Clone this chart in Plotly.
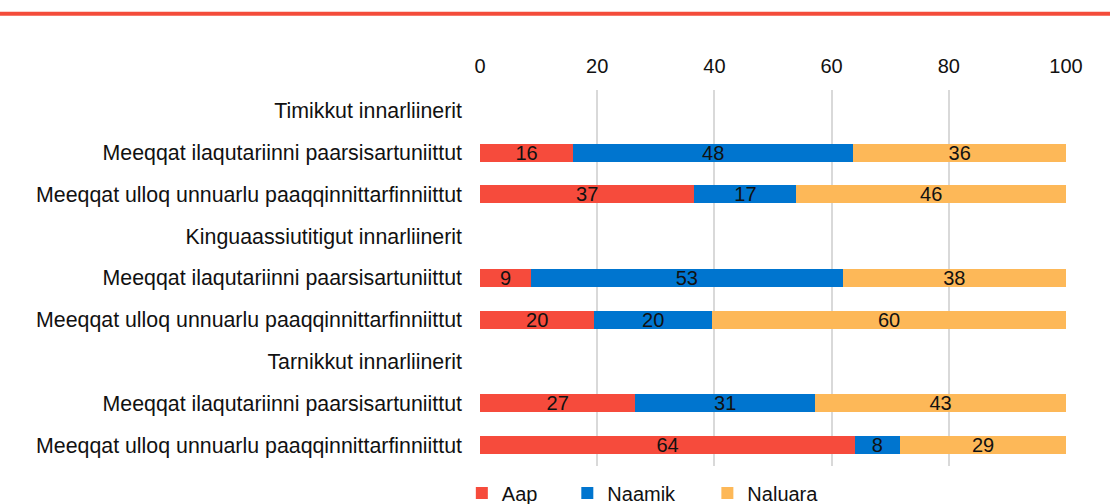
import plotly.graph_objects as go

categories = [
    "Timikkut innarliinerit",
    "Meeqqat ilaqutariinni paarsisartuniittut",
    "Meeqqat ulloq unnuarlu paaqqinnittarfinniittut",
    "Kinguaassiutitigut innarliinerit",
    "Meeqqat ilaqutariinni paarsisartuniittut",
    "Meeqqat ulloq unnuarlu paaqqinnittarfinniittut",
    "Tarnikkut innarliinerit",
    "Meeqqat ilaqutariinni paarsisartuniittut",
    "Meeqqat ulloq unnuarlu paaqqinnittarfinniittut",
]
aap = [None, 15.9, 36.6, None, 8.7, 19.5, None, 26.5, 64.0]
naamik = [None, 47.8, 17.4, None, 53.2, 20.1, None, 30.7, 7.6]
naluara = [None, 36.3, 46.0, None, 38.1, 60.4, None, 42.8, 28.5]
series_names = ["Aap", "Naamik", "Naluara"]
colors = ["#F64B3C", "#0075CF", "#FDB858"]
x_ticks = [0, 20, 40, 60, 80, 100]

FONT = "Liberation Sans, Arial"
ypos = list(range(len(categories)))
fig = go.Figure()
legend_ids = ["legend", "legend2", "legend3"]
for name, vals, col, lg in zip(series_names, [aap, naamik, naluara], colors, legend_ids):
    fig.add_trace(go.Bar(
        y=ypos, x=vals, name=name, orientation="h",
        marker=dict(color=col, line=dict(width=0)),
        texttemplate="%{x:.0f}", textposition="inside",
        insidetextanchor="middle", textangle=0,
        textfont=dict(color="#111", size=20, family=FONT),
        legend=lg,
    ))

legend_common = dict(orientation="h", yanchor="middle", y=-0.072, xanchor="left",
                     font=dict(size=20, family=FONT, color="#111"),
                     bgcolor="rgba(0,0,0,0)", itemwidth=30)
fig.update_layout(
    width=1110, height=504,
    margin=dict(l=480, r=44, t=90, b=38, autoexpand=False),
    barmode="stack", bargap=0.57,
    uniformtext=dict(minsize=20, mode="show"),
    plot_bgcolor="white", paper_bgcolor="white",
    font=dict(family=FONT, size=20, color="#111"),
    xaxis=dict(side="top", range=[0, 100], tickvals=x_ticks, showgrid=True,
               gridcolor="#D9D9D9", gridwidth=2, zeroline=False, showline=False,
               ticks="", ticklabelstandoff=12, tickfont=dict(size=20)),
    yaxis=dict(tickvals=ypos, ticktext=categories, autorange="reversed",
               range=[len(categories) - 0.5, -0.5], showgrid=False, zeroline=False,
               ticks="", ticklabelstandoff=17, tickfont=dict(size=21.35)),
    legend=dict(**legend_common, x=-0.031),
    legend2=dict(**legend_common, x=0.149),
    legend3=dict(**legend_common, x=0.388),
    showlegend=True,
    shapes=[dict(type="line", xref="paper", yref="paper", x0=-0.85, x1=1.12,
                 y0=1.203, y1=1.203, line=dict(color="#F44C3A", width=4))],
)
fig.write_html("out.html", config={"displayModeBar": False},
               post_script="document.body.style.margin='0';")
